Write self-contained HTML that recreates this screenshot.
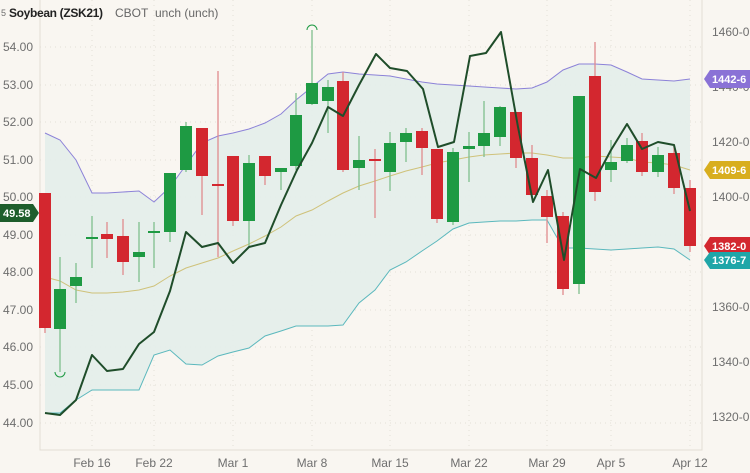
<!DOCTYPE html>
<html><head><meta charset="utf-8"><style>
html,body{margin:0;padding:0;background:#f9f6f1;}
svg{display:block;font-family:"Liberation Sans",sans-serif;}
</style></head><body>
<svg width="750" height="473" viewBox="0 0 750 473" xmlns="http://www.w3.org/2000/svg">
<rect width="750" height="473" fill="#f9f6f1"/>
<g stroke="#e4e0d8" stroke-dasharray="1,4" stroke-width="1">
<line x1="40" x2="702" y1="47" y2="47"/><line x1="40" x2="702" y1="85" y2="85"/><line x1="40" x2="702" y1="122" y2="122"/><line x1="40" x2="702" y1="160" y2="160"/><line x1="40" x2="702" y1="197" y2="197"/><line x1="40" x2="702" y1="235" y2="235"/><line x1="40" x2="702" y1="272" y2="272"/><line x1="40" x2="702" y1="310" y2="310"/><line x1="40" x2="702" y1="347" y2="347"/><line x1="40" x2="702" y1="385" y2="385"/><line x1="40" x2="702" y1="423" y2="423"/>
<line x1="92" x2="92" y1="0" y2="450"/><line x1="154" x2="154" y1="0" y2="450"/><line x1="233" x2="233" y1="0" y2="450"/><line x1="312" x2="312" y1="0" y2="450"/><line x1="390" x2="390" y1="0" y2="450"/><line x1="469" x2="469" y1="0" y2="450"/><line x1="547" x2="547" y1="0" y2="450"/><line x1="611" x2="611" y1="0" y2="450"/><line x1="690" x2="690" y1="0" y2="450"/>
</g>
<polyline fill="none" stroke="#e2ddd5" points="40,0 40,450 702,450 702,0"/>
<polygon fill="#e3eeea" opacity="0.9" points="45,133 60,140 76,160 92,193 107,193 123,192 139,191 154,202 170,187 186,165 202,143 218,136 233,133 249,129 265,123 281,114 296,100 312,87 328,74 343,72 359,74 375,75 390,76 406,79 422,82 437,84 453,85 469,86 484,87 500,88 516,89 532,88 547,82 563,70 579,64 595,64 611,65 627,72 642,79 658,80 674,81 690,79 690,260 674,249 658,247 642,248 627,249 611,250 595,249 579,248 563,248 547,220 532,220 516,221 500,221 484,222 469,223 453,229 437,241 422,251 406,262 390,270 375,290 359,303 343,325 328,326 312,326 296,326 281,331 265,336 249,348 233,352 218,356 202,365 186,364 170,350 154,355 139,390 123,390 107,390 92,390 76,400 60,413 45,413"/>
<polyline fill="none" stroke="#8c82d8" stroke-width="1" points="45,133 60,140 76,160 92,193 107,193 123,192 139,191 154,202 170,187 186,165 202,143 218,136 233,133 249,129 265,123 281,114 296,100 312,87 328,74 343,72 359,74 375,75 390,76 406,79 422,82 437,84 453,85 469,86 484,87 500,88 516,89 532,88 547,82 563,70 579,64 595,64 611,65 627,72 642,79 658,80 674,81 690,79"/>
<polyline fill="none" stroke="#5bb8bd" stroke-width="1" points="45,413 60,413 76,400 92,390 107,390 123,390 139,390 154,355 170,350 186,364 202,365 218,356 233,352 249,348 265,336 281,331 296,326 312,326 328,326 343,325 359,303 375,290 390,270 406,262 422,251 437,241 453,229 469,223 484,222 500,221 516,221 532,220 547,220 563,248 579,248 595,249 611,250 627,249 642,248 658,247 674,249 690,260"/>
<polyline fill="none" stroke="#cfc27a" stroke-width="1" points="45,277 60,281 76,290 92,293 107,293 123,292 139,290 154,286 170,276 186,268 202,263 218,258 233,251 249,244 265,236 281,227 296,216 312,210 328,201 343,193 359,186 375,181 390,176 406,171 422,167 437,163 453,160 469,157 484,155 500,154 516,153 532,153 547,155 563,158 579,158 595,156 611,157 627,158 642,162 658,163 674,165 690,170"/>
<g stroke-width="1.3">
<g stroke="#e08a8e">
<line x1="45" x2="45" y1="193" y2="333"/><line x1="107" x2="107" y1="222" y2="258"/><line x1="123" x2="123" y1="219" y2="275"/><line x1="202" x2="202" y1="128" y2="215"/><line x1="218" x2="218" y1="71" y2="257"/><line x1="233" x2="233" y1="156" y2="226"/><line x1="265" x2="265" y1="156" y2="185"/><line x1="343" x2="343" y1="72" y2="172"/><line x1="375" x2="375" y1="149" y2="218"/><line x1="422" x2="422" y1="128" y2="175"/><line x1="437" x2="437" y1="149" y2="223"/><line x1="516" x2="516" y1="112" y2="168"/><line x1="532" x2="532" y1="145" y2="196"/><line x1="547" x2="547" y1="190" y2="243"/><line x1="563" x2="563" y1="212" y2="295"/><line x1="595" x2="595" y1="42" y2="201"/><line x1="642" x2="642" y1="133" y2="176"/><line x1="674" x2="674" y1="144" y2="194"/><line x1="690" x2="690" y1="180" y2="252"/>
</g>
<g stroke="#7fbf8e">
<line x1="60" x2="60" y1="257" y2="372"/><line x1="76" x2="76" y1="263" y2="303"/><line x1="92" x2="92" y1="216" y2="268"/><line x1="139" x2="139" y1="222" y2="282"/><line x1="154" x2="154" y1="222" y2="268"/><line x1="170" x2="170" y1="173" y2="242"/><line x1="186" x2="186" y1="122" y2="172"/><line x1="249" x2="249" y1="155" y2="246"/><line x1="281" x2="281" y1="168" y2="190"/><line x1="296" x2="296" y1="93" y2="170"/><line x1="312" x2="312" y1="30" y2="105"/><line x1="328" x2="328" y1="80" y2="133"/><line x1="359" x2="359" y1="136" y2="190"/><line x1="390" x2="390" y1="132" y2="191"/><line x1="406" x2="406" y1="128" y2="162"/><line x1="453" x2="453" y1="148" y2="225"/><line x1="469" x2="469" y1="132" y2="182"/><line x1="484" x2="484" y1="101" y2="157"/><line x1="500" x2="500" y1="106" y2="146"/><line x1="579" x2="579" y1="96" y2="294"/><line x1="611" x2="611" y1="140" y2="182"/><line x1="627" x2="627" y1="138" y2="163"/><line x1="658" x2="658" y1="147" y2="177"/>
</g>
</g>
<g fill="#d3272f">
<rect x="39" y="193" width="12" height="135"/><rect x="101" y="234" width="12" height="5"/><rect x="117" y="236" width="12" height="26"/><rect x="196" y="128" width="12" height="48"/><rect x="212" y="184" width="12" height="2"/><rect x="227" y="156" width="12" height="65"/><rect x="259" y="156" width="12" height="20"/><rect x="337" y="81" width="12" height="89"/><rect x="369" y="159" width="12" height="2"/><rect x="416" y="131" width="12" height="17"/><rect x="431" y="149" width="12" height="70"/><rect x="510" y="112" width="12" height="46"/><rect x="526" y="158" width="12" height="37"/><rect x="541" y="196" width="12" height="21"/><rect x="557" y="216" width="12" height="73"/><rect x="589" y="76" width="12" height="116"/><rect x="636" y="141" width="12" height="31"/><rect x="668" y="153" width="12" height="35"/><rect x="684" y="188" width="12" height="58"/>
</g>
<g fill="#1e9a43">
<rect x="54" y="289" width="12" height="40"/><rect x="70" y="277" width="12" height="9"/><rect x="86" y="237" width="12" height="2"/><rect x="133" y="252" width="12" height="5"/><rect x="148" y="231" width="12" height="2"/><rect x="164" y="173" width="12" height="59"/><rect x="180" y="126" width="12" height="44"/><rect x="243" y="163" width="12" height="58"/><rect x="275" y="168" width="12" height="4"/><rect x="290" y="115" width="12" height="51"/><rect x="306" y="83" width="12" height="21"/><rect x="322" y="87" width="12" height="14"/><rect x="353" y="160" width="12" height="8"/><rect x="384" y="143" width="12" height="29"/><rect x="400" y="133" width="12" height="9"/><rect x="447" y="152" width="12" height="70"/><rect x="463" y="146" width="12" height="3"/><rect x="478" y="133" width="12" height="13"/><rect x="494" y="107" width="12" height="30"/><rect x="573" y="96" width="12" height="188"/><rect x="605" y="162" width="12" height="8"/><rect x="621" y="145" width="12" height="16"/><rect x="652" y="155" width="12" height="17"/>
</g>
<path d="M55,372 a5,5 0 0 0 10,0" fill="none" stroke="#1e9a43" stroke-width="1"/>
<path d="M307,30 a5,5 0 0 1 10,0" fill="none" stroke="#1e9a43" stroke-width="1"/>
<polyline fill="none" stroke="#1f4d2a" stroke-width="2" stroke-linejoin="round" points="45,413 60,415 76,400 92,355 107,371 123,369 139,344 154,332 170,291 186,232 202,247 218,243 233,263 249,247 265,243 281,205 297,170 312,143 328,107 343,116 359,85 376,54 390,68 407,71 423,89 438,147 454,142 470,56 486,53 501,32 518,127 533,202 548,170 564,260 580,169 596,178 611,150 627,124 642,149 658,142 674,145 690,211"/>
<g font-size="12" fill="#6e6e6e">
<text x="3" y="51">54.00</text><text x="3" y="89">53.00</text><text x="3" y="126">52.00</text><text x="3" y="164">51.00</text><text x="3" y="239">49.00</text><text x="3" y="276">48.00</text><text x="3" y="314">47.00</text><text x="3" y="351">46.00</text><text x="3" y="389">45.00</text><text x="3" y="427">44.00</text>
<text x="712" y="36">1460-0</text><text x="712" y="91">1440-0</text><text x="712" y="146">1420-0</text><text x="712" y="201">1400-0</text><text x="712" y="311">1360-0</text><text x="712" y="366">1340-0</text><text x="712" y="421">1320-0</text>
<text x="92" y="467" text-anchor="middle">Feb 16</text><text x="154" y="467" text-anchor="middle">Feb 22</text><text x="233" y="467" text-anchor="middle">Mar 1</text><text x="312" y="467" text-anchor="middle">Mar 8</text><text x="390" y="467" text-anchor="middle">Mar 15</text><text x="469" y="467" text-anchor="middle">Mar 22</text><text x="547" y="467" text-anchor="middle">Mar 29</text><text x="611" y="467" text-anchor="middle">Apr 5</text><text x="690" y="467" text-anchor="middle">Apr 12</text>
<text x="3" y="201">50.00</text>
</g>
<g font-size="11" font-weight="bold" fill="#fff">
<path d="M0,204 H33 L39,213 L33,222 H0Z" fill="#1e5e2c"/><text x="3" y="217">49.58</text>
<path d="M704,79 L710,70 H750 V88 H710Z" fill="#8a72d6"/><text x="712" y="83">1442-6</text>
<path d="M704,170 L710,161 H750 V179 H710Z" fill="#d8ae1e"/><text x="712" y="174">1409-6</text>
<path d="M704,246 L710,237 H750 V255 H710Z" fill="#d3272f"/><text x="712" y="250">1382-0</text>
<path d="M704,260 L710,252 H750 V269 H710Z" fill="#1fa6a8"/><text x="712" y="264">1376-7</text>
</g>
<text x="1" y="16" font-size="9" fill="#6e6e6e">5</text>
<text x="9" y="17" font-size="12" font-weight="bold" fill="#222" textLength="94">Soybean (ZSK21)</text>
<text x="115" y="17" font-size="12" fill="#666">CBOT</text>
<text x="155" y="17" font-size="12" fill="#666">unch (unch)</text>
</svg>
</body></html>
